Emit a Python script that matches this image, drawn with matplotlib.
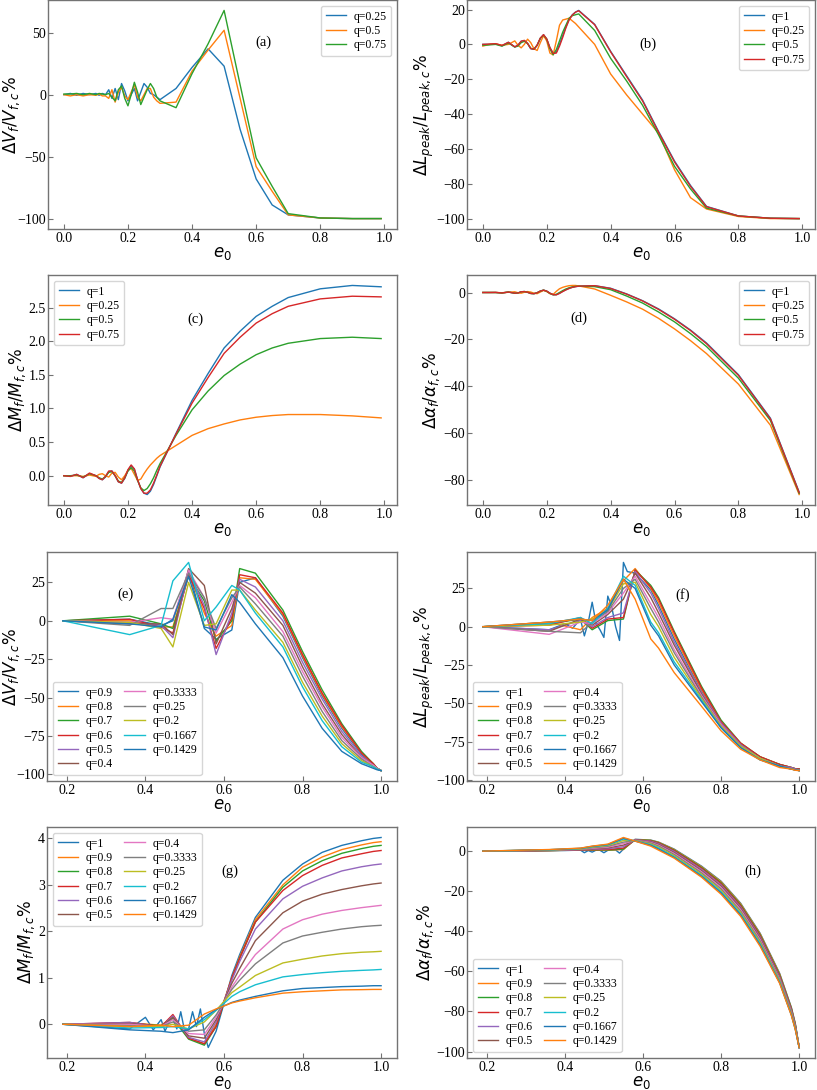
import matplotlib
matplotlib.use("Agg")
import matplotlib.pyplot as plt

plt.rcParams['font.family'] = ['Liberation Serif', 'DejaVu Serif']
plt.rcParams['mathtext.fontset'] = 'dejavusans'
plt.rcParams['axes.unicode_minus'] = True
plt.rcParams['legend.fontsize'] = 8.5
plt.rcParams['legend.labelspacing'] = 0.2
plt.rcParams['legend.handlelength'] = 1.75
plt.rcParams['legend.handletextpad'] = 0.6
plt.rcParams['legend.columnspacing'] = 1.0

# ---------------- top panels (a)-(d) ----------------
xt = [0.00, 0.02, 0.04, 0.06, 0.08, 0.10, 0.11, 0.12, 0.13, 0.14, 0.15, 0.16, 0.17, 0.18,
      0.19, 0.20, 0.21, 0.22, 0.23, 0.24, 0.25, 0.26, 0.27, 0.28, 0.29, 0.30, 0.35, 0.40,
      0.45, 0.50, 0.55, 0.60, 0.65, 0.70, 0.80, 0.90, 0.99]

a_labels = ['q=0.25', 'q=0.5', 'q=0.75']
a_q025 = [0, 1, -0.5, 1, 0, 1, -0.5, 1, 0, 4, -3, 5, -4, 9, 3, -5, 0, 5, -5, 2, 9, 6, 1, 0,
          -2, -4, 5, 22, 37, 23, -28, -68, -89, -97, -99.5, -100, -100]
a_q05 = [0, -1, 0, -1, 0, -0.5, 0.5, -1, -1, -3, 4, -6, 2, 6, -1, -4, 2, 8, -2, -5, 0, 5, 5,
         -2, -5, -7, -6, 19, 36, 52, -3, -58, -78, -97, -99.5, -100, -100]
a_q075 = [0.5, 0.5, 1, 0, 1, 0, 1, 0.5, 0, 1, -2, -5, 4, 7, -3, -9, 0, 10, 2, -8, -2, 4, 9, 5,
          -2, -5, -10.5, 17, 41, 68, 8, -51, -74, -96, -99.5, -100, -100]

bcd_labels = ['q=1', 'q=0.25', 'q=0.5', 'q=0.75']
b_q1 = [0, 0, 0.3, -0.8, 1.2, -1.5, -0.5, 1.8, 2.2, 0.5, -2.5, -2.8, -0.5, 3.5, 5.5, 3, -2,
        -5, -4.5, 0, 5, 10, 14.5, 17, 18.5, 19.5, 11.5, -4, -18, -32, -50, -67, -81, -93,
        -98.5, -99.8, -100]
b_q025 = [-1, 0, 0.3, -0.5, 0, 2, -0.5, -2, 0, 3, 1, -2.5, -3.5, 1, 5, 2, -5, -6, 2, 11, 14,
          14.5, 15, 13.5, 12, 10, 0, -17, -29, -40, -51, -72, -88, -94.5, -98.8, -100, -100]
b_q05 = [-0.5, -0.3, 0, -1, 0.8, -1.5, -1, 1, 1.8, 0.5, -2.2, -2.8, -0.5, 3.5, 5.3, 3, -2.5,
         -6, -3, 2, 7, 11, 15, 16.5, 17, 17.5, 8, -8, -21, -35, -52, -70, -83, -94, -98.5,
         -99.8, -100]
b_q075 = [0, 0.2, 0.4, -0.6, 1.2, -1.4, -0.4, 1.8, 2.3, 0.6, -2.4, -2.8, -0.4, 3.6, 5.6, 3.1,
          -1.8, -5.2, -5, -1, 4, 9.5, 14, 16.8, 18.5, 19.3, 11.3, -4.3, -18.5, -32.5, -50.5,
          -67.5, -81.5, -93.2, -98.5, -99.8, -100]

c_q1 = [0, -0.01, 0.02, -0.03, 0.03, 0.0, -0.04, -0.06, -0.02, 0.06, 0.07, 0.0, -0.09, -0.11,
        -0.04, 0.08, 0.15, 0.10, -0.06, -0.19, -0.26, -0.28, -0.23, -0.13, 0.0, 0.13, 0.63,
        1.12, 1.52, 1.90, 2.15, 2.37, 2.52, 2.65, 2.78, 2.83, 2.81]
c_q025 = [0, 0.0, 0.0, -0.01, 0.01, -0.01, 0.02, 0.03, 0.0, -0.02, 0.04, 0.05, -0.02, -0.06,
          0.0, 0.08, 0.11, 0.02, -0.07, -0.05, 0.03, 0.10, 0.16, 0.21, 0.26, 0.30, 0.45,
          0.60, 0.70, 0.77, 0.83, 0.87, 0.895, 0.91, 0.91, 0.89, 0.86]
c_q05 = [0, 0, 0.01, -0.02, 0.03, 0.0, -0.03, -0.05, -0.01, 0.05, 0.06, 0.0, -0.08, -0.10,
         -0.03, 0.07, 0.12, 0.07, -0.07, -0.18, -0.22, -0.19, -0.12, -0.03, 0.08, 0.18, 0.60,
         0.98, 1.26, 1.49, 1.66, 1.80, 1.90, 1.97, 2.04, 2.06, 2.04]
c_q075 = [0, -0.01, 0.02, -0.03, 0.04, 0.0, -0.04, -0.06, -0.01, 0.07, 0.07, 0.0, -0.09, -0.11,
          -0.03, 0.09, 0.16, 0.10, -0.06, -0.19, -0.26, -0.26, -0.21, -0.11, 0.01, 0.14, 0.62,
          1.08, 1.46, 1.82, 2.06, 2.27, 2.41, 2.52, 2.63, 2.67, 2.66]

d_q1 = [0, 0, 0, -0.2, 0.2, -0.3, -0.2, 0.3, 0.4, 0.1, -0.4, -0.5, -0.1, 0.6, 1.0, 0.6, -0.3,
        -0.9, -0.9, -0.3, 0.5, 1.2, 1.8, 2.2, 2.5, 2.7, 2.9, 1.8, -0.6, -3.5, -7.0, -11.2,
        -16, -21.5, -35, -53.5, -85]
d_q025 = [0, 0, 0, -0.1, 0.1, 0.3, -0.1, -0.3, 0.1, 0.4, 0.2, -0.3, -0.5, 0.2, 0.9, 0.4, -0.5,
          -0.8, 0.5, 1.6, 2.2, 2.6, 2.9, 3.0, 3.0, 2.8, 1.5, -1.2, -4.0, -7.1, -11.0, -15.5,
          -20.5, -26, -39, -56.5, -86]
d_q05 = [0, 0, 0, -0.2, 0.2, -0.3, -0.2, 0.3, 0.4, 0.1, -0.4, -0.5, -0.1, 0.6, 1.0, 0.5, -0.4,
         -1.0, -0.8, 0.0, 0.8, 1.5, 2.0, 2.4, 2.6, 2.7, 2.5, 1.2, -1.5, -4.5, -8.3, -12.5,
         -17.5, -23, -36.5, -54.5, -85.5]
d_q075 = [0, 0, 0.05, -0.2, 0.2, -0.3, -0.2, 0.3, 0.4, 0.1, -0.4, -0.5, -0.1, 0.6, 1.0, 0.6,
          -0.3, -0.9, -1.0, -0.4, 0.4, 1.1, 1.7, 2.2, 2.5, 2.7, 2.9, 1.7, -0.7, -3.6, -7.2,
          -11.4, -16.2, -21.8, -35.3, -53.8, -85.2]

# ---------------- bottom panels (e)-(h) ----------------
xb = [0.19, 0.36, 0.44, 0.47, 0.51, 0.55, 0.58, 0.62, 0.64, 0.68, 0.75, 0.80, 0.85, 0.90,
      0.95, 0.98, 0.99, 1.0]
xq1 = [0.19, 0.36, 0.40, 0.42, 0.44, 0.45, 0.46, 0.47, 0.48, 0.49, 0.50, 0.51, 0.52, 0.53,
       0.54, 0.55, 0.56, 0.58, 0.62, 0.64, 0.68, 0.75, 0.80, 0.85, 0.90, 0.95, 0.98, 0.99, 1.0]

e_labels = ['q=0.9', 'q=0.8', 'q=0.7', 'q=0.6', 'q=0.5', 'q=0.4', 'q=0.3333', 'q=0.25',
            'q=0.2', 'q=0.1667', 'q=0.1429']
e_q09 = [0, 1, -3, 0, 33, -5, -12, -6, 25, 28, 3, -24, -49, -70, -87, -94, -96, -97.5]
e_q08 = [0, 0, -4, -4, 31, 5, -10, -3, 28, 27, 4, -23, -48, -69, -86, -93, -96, -97.5]
e_q07 = [0, 3, -2, -5, 29, 13, -13, 0, 34, 31, 7, -20, -45, -67, -85, -93, -96, -97.5]
e_q06 = [0, 1, -4, -8, 30, 8, -18, 2, 30, 28, 5, -22, -47, -68, -86, -93, -96, -97.5]
e_q05 = [0, -1, -3, -11, 32, 10, -22, 5, 27, 22, 0, -27, -51, -72, -88, -94, -96, -97.5]
e_q04 = [0, -2, -2, -9, 34, 23, -15, 8, 25, 18, -3, -30, -54, -74, -89, -94, -96, -97.5]
e_q03333 = [0, -1, 2, 1, 33, 15, -8, 12, 23, 15, -7, -33, -56, -76, -89, -94, -96, -97.5]
e_q025 = [0, -3, 8, 8, 31, 15, -5, 15, 22, 11, -10, -36, -59, -78, -90, -95, -96.5, -97.5]
e_q02 = [0, -1, -5, -17, 25, -3, -2, 20, 20, 7, -14, -40, -62, -80, -91, -95, -96.5, -97.5]
e_q01667 = [0, -9, -3, 26, 38, 0, 9, 23, 20, 5, -17, -43, -65, -82, -92, -95, -96.5, -97.5]
e_q01429 = [0, -2, -4, 1, 29, -4, -6, 17, 12, -2, -24, -49, -70, -85, -93, -96, -97, -97.5]

fgh_labels = ['q=1', 'q=0.9', 'q=0.8', 'q=0.7', 'q=0.6', 'q=0.5', 'q=0.4', 'q=0.3333',
              'q=0.25', 'q=0.2', 'q=0.1667', 'q=0.1429']
f_q1 = [0, -2, 2, -1, 5, -6, 3, 16, 2, -2, -7, 20, 13, 0, -9, 42, 36, 35, 24, 14, -8, -42,
        -63, -77, -86, -90, -92, -92.8, -93]
f_q09 = [0, 3, -2, 6, 12, 30, 38, 25, 16, -6, -41, -62, -77, -85, -90, -92, -92.8, -93]
f_q08 = [0, 2, 5, -2, 4, 5, 37, 27, 19, -3, -39, -61, -76, -85, -90, -92, -92.8, -93]
f_q07 = [0, 1, 6, -1, 5, 6, 37, 26, 18, -4, -40, -62, -76, -85, -90, -92, -92.8, -93]
f_q06 = [0, -2, 4, 0, 6, 9, 36, 22, 12, -10, -43, -63, -77, -86, -91, -92, -93, -93.5]
f_q05 = [0, -3, 5, 1, 8, 18, 35, 19, 9, -12, -44, -64, -78, -86, -91, -93, -93.5, -94]
f_q04 = [0, -5, 3, 2, 9, 22, 33, 15, 6, -15, -45, -64, -78, -86, -91, -93, -93.5, -94]
f_q03333 = [0, -3, -4, 3, 10, 25, 31, 12, 3, -17, -46, -65, -78, -86, -91, -93, -93.5, -94]
f_q025 = [0, 1, 3, 5, 11, 28, 29, 8, 0, -20, -47, -65, -78, -86, -91, -93, -93.5, -94]
f_q02 = [0, 2, 6, 2, 12, 33, 27, 3, -4, -23, -48, -66, -79, -87, -91, -93, -93.5, -94]
f_q01667 = [0, 3, 5, 4, 11, 31, 25, 1, -6, -25, -49, -66, -79, -87, -91, -93, -93.5, -94]
f_q01429 = [0, 3, 5, 4, 14, 31, 18, -8, -14, -30, -52, -68, -80, -87, -92, -93, -93.8, -94]

g_q1 = [0, -0.10, 0.15, -0.12, 0.10, -0.15, 0.05, 0.12, -0.10, 0.27, -0.15, -0.10, 0.27, -0.05,
        0.33, -0.20, -0.50, -0.15, 1.05, 1.50, 2.30, 3.10, 3.45, 3.70, 3.85, 3.95, 4.00, 4.01,
        4.02]
g_q09 = [0, 0.03, -0.02, 0.15, -0.30, -0.42, 0.0, 1.00, 1.45, 2.25, 3.00, 3.38, 3.60, 3.76,
         3.86, 3.91, 3.92, 3.93]
g_q08 = [0, 0.02, -0.03, 0.12, -0.32, -0.45, -0.05, 0.98, 1.42, 2.20, 2.95, 3.30, 3.52, 3.68,
         3.78, 3.83, 3.84, 3.85]
g_q07 = [0, 0.04, -0.05, 0.21, -0.30, -0.42, -0.05, 1.00, 1.42, 2.20, 2.88, 3.20, 3.42, 3.58,
         3.67, 3.72, 3.73, 3.74]
g_q06 = [0, 0.04, -0.06, 0.18, -0.28, -0.38, 0.05, 0.95, 1.35, 2.05, 2.70, 2.97, 3.15, 3.30,
         3.39, 3.43, 3.44, 3.45]
g_q05 = [0, 0.02, -0.05, 0.15, -0.25, -0.30, 0.10, 0.88, 1.20, 1.80, 2.40, 2.65, 2.80, 2.90,
         2.98, 3.02, 3.03, 3.04]
g_q04 = [0, 0.00, -0.05, 0.10, -0.20, -0.22, 0.15, 0.80, 1.05, 1.50, 2.05, 2.25, 2.37, 2.45,
         2.51, 2.54, 2.55, 2.56]
g_q03333 = [0, -0.03, -0.05, 0.05, -0.15, -0.12, 0.20, 0.75, 0.95, 1.30, 1.75, 1.90, 1.98,
            2.05, 2.10, 2.12, 2.125, 2.13]
g_q025 = [0, -0.05, -0.05, 0.00, -0.10, 0.05, 0.30, 0.68, 0.80, 1.05, 1.32, 1.40, 1.47, 1.52,
          1.55, 1.56, 1.565, 1.57]
g_q02 = [0, -0.08, -0.07, -0.05, -0.10, 0.10, 0.30, 0.60, 0.70, 0.85, 1.02, 1.07, 1.11, 1.14,
         1.16, 1.17, 1.175, 1.18]
g_q01667 = [0, -0.12, -0.15, -0.18, -0.12, 0.15, 0.32, 0.47, 0.52, 0.60, 0.72, 0.77, 0.79,
            0.81, 0.82, 0.83, 0.83, 0.83]
g_q01429 = [0, -0.05, -0.02, -0.05, -0.02, 0.22, 0.33, 0.46, 0.50, 0.57, 0.67, 0.70, 0.72,
            0.74, 0.745, 0.75, 0.75, 0.75]

h_q1 = [0, 0.2, 0.3, 0.4, 0.5, -0.8, 0.3, -0.5, 0.5, 0.4, -0.8, 0.4, 0.5, 0.6, -1.0, 1.0, 3.0,
        5.9, 5.5, 4.5, 1.0, -7.5, -15.0, -26.0, -41.0, -61.0, -78.0, -86.0, -98]
h_q09 = [0, 0.3, 0.5, 0.5, 0.5, 0.8, 5.8, 5.4, 4.4, 0.8, -7.8, -15.3, -26.3, -41.3, -61.3,
         -78.3, -86.2, -98]
h_q08 = [0, 0.3, 0.6, 0.6, 0.6, 1.0, 5.7, 5.3, 4.2, 0.5, -8.2, -15.8, -26.8, -41.8, -61.8,
         -78.6, -86.5, -98]
h_q07 = [0, 0.3, 0.6, 0.7, 0.8, 1.5, 5.6, 5.1, 4.0, 0.2, -8.6, -16.3, -27.3, -42.3, -62.3,
         -79.0, -86.8, -98]
h_q06 = [0, 0.4, 0.7, 0.9, 1.2, 2.2, 5.6, 4.9, 3.7, -0.2, -9.1, -16.9, -27.9, -42.9, -62.8,
         -79.4, -87.1, -98]
h_q05 = [0, 0.4, 0.8, 1.1, 1.6, 3.0, 5.5, 4.6, 3.3, -0.7, -9.7, -17.5, -28.5, -43.5, -63.3,
         -79.8, -87.4, -98]
h_q04 = [0, 0.5, 0.9, 1.4, 2.0, 3.8, 5.4, 4.3, 2.9, -1.2, -10.3, -18.2, -29.2, -44.2, -63.8,
         -80.3, -87.8, -98]
h_q03333 = [0, 0.5, 1.0, 1.7, 2.4, 4.5, 5.3, 4.0, 2.5, -1.7, -10.9, -18.9, -29.9, -44.9,
            -64.3, -80.8, -88.1, -98]
h_q025 = [0, 0.6, 1.1, 2.0, 2.8, 5.3, 5.2, 3.6, 2.0, -2.3, -11.5, -19.6, -30.6, -45.6, -64.8,
          -81.2, -88.4, -98]
h_q02 = [0, 0.7, 1.3, 2.2, 3.1, 6.0, 5.1, 3.2, 1.5, -2.8, -12.1, -20.3, -31.3, -46.3, -65.3,
         -81.6, -88.7, -98]
h_q01667 = [0, 0.7, 1.4, 2.4, 3.3, 6.4, 5.0, 2.9, 1.0, -3.2, -12.6, -20.9, -31.9, -46.9,
            -65.7, -81.8, -88.9, -98]
h_q01429 = [0, 0.8, 1.5, 2.5, 3.5, 6.8, 5.0, 2.5, 0.5, -3.5, -13.0, -21.5, -32.5, -47.5,
            -66.0, -82.0, -89.0, -98]

lab_V = r'$\Delta V_f/V_{f,c}\%$'
lab_L = r'$\Delta L_{peak}/L_{peak,c}\%$'
lab_M = r'$\Delta M_f/M_{f,c}\%$'
lab_A = r'$\Delta \alpha_f/\alpha_{f,c}\%$'

W, H = 817, 1090
fig = plt.figure(figsize=(W / 100, H / 100), dpi=100)
axes_list = []


def make_ax(left, top, right, bottom):
    a = fig.add_axes([left / W, 1 - bottom / H, (right - left) / W, (bottom - top) / H])
    axes_list.append(a)
    return a


SP = '0.45'


def style(ax, ylabel, xticks, yticks, panel, pxy):
    for s in ax.spines.values():
        s.set_color(SP)
        s.set_linewidth(1.0)
    ax.tick_params(direction='in', labelsize=10, color=SP, length=3.5)
    ax.tick_params(axis='y', pad=1.5)
    ax.tick_params(axis='x', pad=2.5)
    ax.set_xticks(xticks)
    ax.set_yticks(yticks)
    ax.set_ylabel(ylabel, fontsize=12, labelpad=0.5)
    ax.set_xlabel(r'$e_0$', fontsize=12, labelpad=-0.5)
    ax.text(pxy[0], pxy[1], panel, fontsize=10.5, ha='center', va='center')


LW = 1.0
top_x = [0.0, 0.2, 0.4, 0.6, 0.8, 1.0]
bot_x = [0.2, 0.4, 0.6, 0.8, 1.0]

# (a)
ax = make_ax(48, 0, 397, 229)
for y, l in zip([a_q025, a_q05, a_q075], a_labels):
    ax.plot(xt, y, lw=LW, label=l)
style(ax, lab_V, top_x, [-100, -50, 0, 50], '(a)', (0.623, 42))
ax.legend(loc='upper right')

# (b)
ax = make_ax(467, 0, 815, 229)
for y, l in zip([b_q1, b_q025, b_q05, b_q075], bcd_labels):
    ax.plot(xt, y, lw=LW, label=l)
style(ax, lab_L, top_x, [-100, -80, -60, -40, -20, 0, 20], '(b)', (0.517, 0))
ax.legend(loc='upper right')

# (c)
ax = make_ax(48, 275, 397, 505)
for y, l in zip([c_q1, c_q025, c_q05, c_q075], bcd_labels):
    ax.plot(xt, y, lw=LW, label=l)
style(ax, lab_M, top_x, [0.0, 0.5, 1.0, 1.5, 2.0, 2.5], '(c)', (0.41, 2.33))
ax.legend(loc='upper left')

# (d)
ax = make_ax(467, 275, 815, 505)
for y, l in zip([d_q1, d_q025, d_q05, d_q075], bcd_labels):
    ax.plot(xt, y, lw=LW, label=l)
style(ax, lab_A, top_x, [-80, -60, -40, -20, 0], '(d)', (0.302, -11.1))
ax.legend(loc='upper right')

# (e)
ax = make_ax(47, 552, 397, 781)
e_series = [e_q09, e_q08, e_q07, e_q06, e_q05, e_q04, e_q03333, e_q025, e_q02, e_q01667,
            e_q01429]
for y, l in zip(e_series, e_labels):
    ax.plot(xb, y, lw=LW, label=l)
style(ax, lab_V, bot_x, [-100, -75, -50, -25, 0, 25], '(e)', (0.35, 17))
ax.legend(loc='lower left', ncol=2)

# (f)
ax = make_ax(467, 552, 815, 781)
ax.plot(xq1, f_q1, lw=LW, label=fgh_labels[0])
f_series = [f_q09, f_q08, f_q07, f_q06, f_q05, f_q04, f_q03333, f_q025, f_q02, f_q01667,
            f_q01429]
for y, l in zip(f_series, fgh_labels[1:]):
    ax.plot(xb, y, lw=LW, label=l)
style(ax, lab_L, bot_x, [-100, -75, -50, -25, 0, 25], '(f)', (0.701, 21))
ax.legend(loc='lower left', ncol=2)

# (g)
ax = make_ax(47, 827, 397, 1058)
ax.plot(xq1, g_q1, lw=LW, label=fgh_labels[0])
g_series = [g_q09, g_q08, g_q07, g_q06, g_q05, g_q04, g_q03333, g_q025, g_q02, g_q01667,
            g_q01429]
for y, l in zip(g_series, fgh_labels[1:]):
    ax.plot(xb, y, lw=LW, label=l)
style(ax, lab_M, bot_x, [0, 1, 2, 3, 4], '(g)', (0.616, 3.29))
ax.legend(loc='upper left', ncol=2)

# (h)
ax = make_ax(467, 827, 815, 1058)
ax.plot(xq1, h_q1, lw=LW, label=fgh_labels[0])
h_series = [h_q09, h_q08, h_q07, h_q06, h_q05, h_q04, h_q03333, h_q025, h_q02, h_q01667,
            h_q01429]
for y, l in zip(h_series, fgh_labels[1:]):
    ax.plot(xb, y, lw=LW, label=l)
style(ax, lab_A, bot_x, [-100, -80, -60, -40, -20, 0], '(h)', (0.881, -9.9))
ax.legend(loc='lower left', ncol=2)

# keep y-labels inside the figure (shift right only if they would be clipped)
fig.canvas.draw()
renderer = fig.canvas.get_renderer()
for a in axes_list:
    lab = a.yaxis.label
    bb = lab.get_window_extent(renderer)
    if bb.x0 < 1.0:
        axbb = a.get_window_extent(renderer)
        new_right = bb.x1 + (1.0 - bb.x0)
        a.yaxis.set_label_coords((new_right - axbb.x0) / axbb.width, 0.5)

fig.savefig('out.png', dpi=100)
